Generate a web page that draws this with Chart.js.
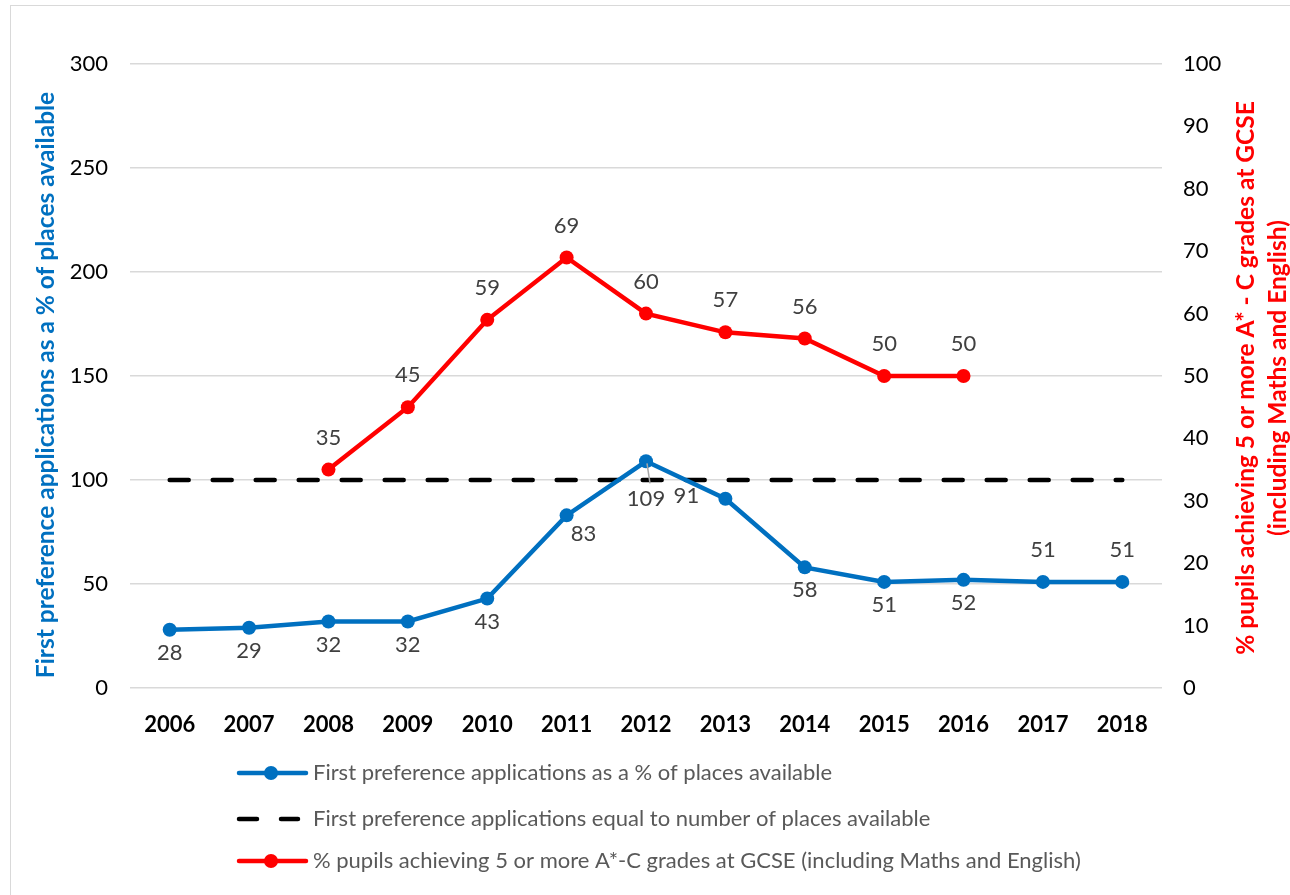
<!DOCTYPE html>
<html>
<head>
<meta charset="utf-8">
<script src="https://cdn.jsdelivr.net/npm/chart.js@4"></script>
<style>
  body { margin: 0; background: #fff; }
  #wrap { position: relative; width: 1290px; height: 895px; }
  #frame { position: absolute; left: 10px; top: 5px; width: 1290px; height: 900px; border: 1px solid #d9d9d9; box-sizing: border-box; }
  canvas { position: absolute; left: 0; top: 0; }
</style>
</head>
<body>
<div id="wrap">
  <div id="frame"></div>
  <canvas id="chart" width="1290" height="895"></canvas>
</div>
<script>
// chart values
const years = ['2006', '2007', '2008', '2009', '2010', '2011', '2012', '2013', '2014', '2015', '2016', '2017', '2018']
const applications = [28, 29, 32, 32, 43, 83, 109, 91, 58, 51, 52, 51, 51]
const equalLine = [100, 100, 100, 100, 100, 100, 100, 100, 100, 100, 100, 100, 100]
const gcse = [null, null, 35, 45, 59, 69, 60, 57, 56, 50, 50, null, null]
const leftTicks = [0, 50, 100, 150, 200, 250, 300]
const rightTicks = [0, 10, 20, 30, 40, 50, 60, 70, 80, 90, 100]

const BLUE = '#0070C0'
const RED = '#FF0000'
const FONT = 'Lato, "Open Sans", sans-serif'

// where each value label goes relative to its point
const blueLabelPlace = ['below', 'below', 'below', 'below', 'below', 'belowRight', 'leader', 'left', 'below', 'below', 'below', 'above', 'above']

const valueLabels = {
    id: 'valueLabels',
    afterDatasetsDraw(chart) {
        const ctx = chart.ctx
        ctx.save()
        ctx.font = '22px ' + FONT
        ctx.fillStyle = '#404040'
        ctx.textAlign = 'center'
        ctx.textBaseline = 'middle'
        chart.data.datasets.forEach((ds, di) => {
            if (!ds.showValues) return
            const meta = chart.getDatasetMeta(di)
            ds.data.forEach((v, i) => {
                if (v == null) return
                const p = meta.data[i]
                let x = p.x, y = p.y
                const place = ds.labelPlace ? ds.labelPlace[i] : 'above'
                if (place === 'above') y -= 32
                else if (place === 'below') y += 23
                else if (place === 'belowRight') { x += 17; y += 19 }
                else if (place === 'left') { x -= 39; y -= 3 }
                else if (place === 'leader') {
                    ctx.strokeStyle = '#a6a6a6'
                    ctx.lineWidth = 1.5
                    ctx.beginPath()
                    ctx.moveTo(x + 1, y + 2)
                    ctx.lineTo(x + 4, y + 22)
                    ctx.stroke()
                    y += 38
                }
                ctx.fillText(String(v), x, y)
            })
        })
        ctx.restore()
    }
}

// both axis titles drawn by hand so they read bottom to top and sit where the original has them
const axisTitles = {
    id: 'axisTitles',
    afterDraw(chart) {
        const ctx = chart.ctx
        ctx.save()
        ctx.font = 'bold 24.5px ' + FONT
        ctx.textAlign = 'center'
        ctx.textBaseline = 'middle'

        ctx.save()
        ctx.fillStyle = BLUE
        ctx.translate(46, 385)
        ctx.rotate(-Math.PI / 2)
        ctx.fillText('First preference applications as a % of places available', 0, 0)
        ctx.restore()

        ctx.fillStyle = RED
        ctx.translate(1262, 378)
        ctx.rotate(-Math.PI / 2)
        ctx.fillText('% pupils achieving 5 or more A* - C grades at GCSE', 0, -16)
        ctx.fillText('(including Maths and English)', 0, 16)
        ctx.restore()
    }
}

const bottomLegend = {
    id: 'bottomLegend',
    afterDraw(chart) {
        const ctx = chart.ctx
        const rows = [773, 819, 861]
        ctx.save()
        ctx.font = '22px ' + FONT
        ctx.textBaseline = 'middle'
        chart.data.datasets.forEach((ds, i) => {
            const y = rows[i]
            ctx.strokeStyle = ds.borderColor
            ctx.lineWidth = 4.5
            ctx.lineCap = 'round'
            ctx.beginPath()
            if (ds.borderDash) {
                ctx.moveTo(239, y); ctx.lineTo(257, y)
                ctx.moveTo(281, y); ctx.lineTo(298, y)
            } else {
                ctx.moveTo(239, y); ctx.lineTo(306, y)
            }
            ctx.stroke()
            if (ds.pointRadius) {
                ctx.fillStyle = ds.borderColor
                ctx.beginPath()
                ctx.arc(271, y, 7, 0, Math.PI * 2)
                ctx.fill()
            }
            ctx.fillStyle = '#595959'
            ctx.fillText(ds.label, 313, y)
        })
        ctx.restore()
    }
}

new Chart(document.getElementById('chart'), {
    type: 'line',
    data: {
        labels: years,
        datasets: [{
            label: 'First preference applications as a % of places available',
            data: applications,
            yAxisID: 'y',
            borderColor: BLUE,
            backgroundColor: BLUE,
            borderWidth: 4.5,
            pointRadius: 7,
            pointHoverRadius: 7,
            pointBorderWidth: 0,
            tension: 0,
            showValues: true,
            labelPlace: blueLabelPlace,
            order: 1,
        }, {
            label: 'First preference applications equal to number of places available',
            data: equalLine,
            yAxisID: 'y',
            borderColor: '#000000',
            backgroundColor: '#000000',
            borderWidth: 4.5,
            borderDash: [19, 24],
            borderCapStyle: 'round',
            pointRadius: 0,
            tension: 0,
            order: 2,
        }, {
            label: '% pupils achieving 5 or more A*-C grades at GCSE (including Maths and English)',
            data: gcse,
            yAxisID: 'y1',
            borderColor: RED,
            backgroundColor: RED,
            borderWidth: 4.5,
            pointRadius: 7,
            pointHoverRadius: 7,
            pointBorderWidth: 0,
            tension: 0,
            showValues: true,
            order: 0,
        }]
    },
    options: {
        responsive: false,
        animation: false,
        layout: { padding: { left: 0, right: 0, top: 64, bottom: 0 } },
        plugins: {
            legend: { display: false },
            tooltip: { enabled: false },
        },
        scales: {
            x: {
                offset: true,
                grid: { display: false },
                border: { display: false },
                ticks: { color: '#000', font: { family: FONT, size: 22, weight: 'bold' }, padding: 16 },
                afterFit(s) { s.height = 207 },
            },
            y: {
                position: 'left',
                min: 0, max: 300,
                afterBuildTicks(s) { s.ticks = leftTicks.map(v => ({ value: v })) },
                grid: { color: '#d9d9d9', lineWidth: 1.5, drawTicks: false },
                border: { display: false },
                ticks: { color: '#000', font: { family: FONT, size: 22 }, padding: 22 },
                afterFit(s) { s.width = 130 },
            },
            y1: {
                position: 'right',
                min: 0, max: 100,
                afterBuildTicks(s) { s.ticks = rightTicks.map(v => ({ value: v })) },
                grid: { display: false, drawTicks: false },
                border: { display: false },
                ticks: { color: '#000', font: { family: FONT, size: 22 }, padding: 21 },
                afterFit(s) { s.width = 128 },
            },
        },
    },
    plugins: [valueLabels, axisTitles, bottomLegend],
})
</script>
</body>
</html>
